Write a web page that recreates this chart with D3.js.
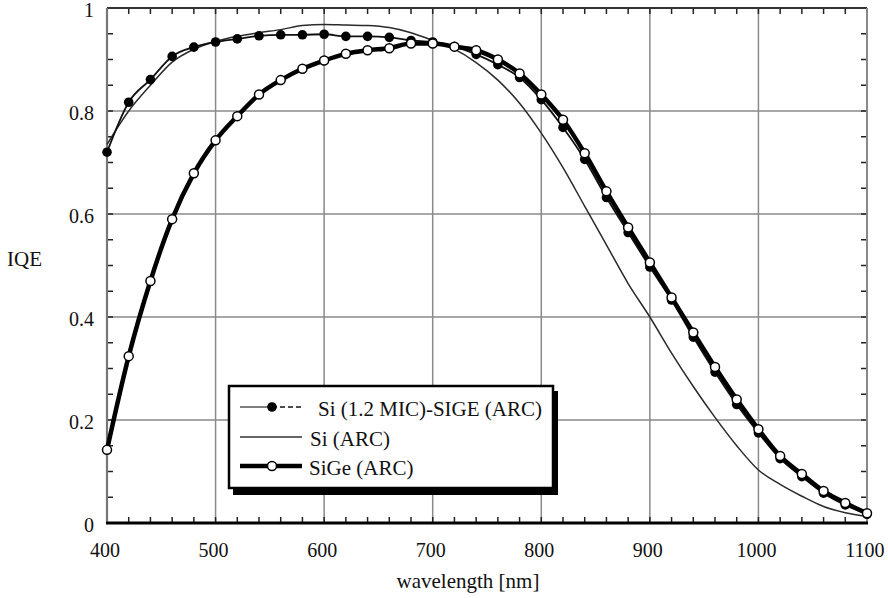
<!DOCTYPE html>
<html><head><meta charset="utf-8">
<script src="https://cdn.jsdelivr.net/npm/d3@7"></script>
<style>body{margin:0;background:#fff}svg{display:block}</style>
</head><body>
<svg id="c" width="888" height="598"></svg>
<script>
const wavelengths = [400,420,440,460,480,500,520,540,560,580,600,620,640,660,680,700,720,740,760,780,800,820,840,860,880,900,920,940,960,980,1000,1020,1040,1060,1080,1100];
const siMicSige = [0.72,0.817,0.861,0.906,0.924,0.934,0.94,0.946,0.948,0.948,0.949,0.945,0.945,0.943,0.937,0.934,0.925,0.91,0.89,0.865,0.822,0.768,0.706,0.632,0.564,0.497,0.433,0.361,0.293,0.23,0.175,0.125,0.09,0.058,0.035,0.017];
const siArc = [0.735,0.80,0.85,0.895,0.92,0.935,0.945,0.952,0.958,0.966,0.968,0.967,0.966,0.962,0.952,0.937,0.92,0.894,0.86,0.815,0.757,0.69,0.615,0.54,0.465,0.40,0.33,0.265,0.205,0.15,0.103,0.075,0.052,0.032,0.02,0.013];
const sigeArc = [0.142,0.324,0.47,0.59,0.679,0.743,0.79,0.832,0.86,0.882,0.898,0.911,0.918,0.922,0.931,0.931,0.925,0.918,0.900,0.873,0.832,0.783,0.718,0.644,0.574,0.506,0.438,0.37,0.303,0.24,0.182,0.13,0.095,0.062,0.039,0.019];
const xTicks = [400,500,600,700,800,900,1000,1100];
const yTicks = [0,0.2,0.4,0.6,0.8,1];
const yTickLabels = ["0","0.2","0.4","0.6","0.8","1"];
const legendLabels = ["Si (1.2 MIC)-SIGE (ARC)","Si (ARC)","SiGe (ARC)"];

const svg = d3.select("#c");
const L=107,R=867,T=8,B=523;
const x = d3.scaleLinear().domain([400,1100]).range([L,R]);
const y = d3.scaleLinear().domain([0,1]).range([B,T]);
const font = "'Liberation Serif','Times New Roman',serif";

// grid
const g = svg.append("g");
g.selectAll(".gx").data(xTicks.slice(1,-1)).join("line")
  .attr("x1",d=>x(d)).attr("x2",d=>x(d)).attr("y1",T).attr("y2",B)
  .attr("stroke","#8a8a8a").attr("stroke-width",1.5);
g.selectAll(".gy").data(yTicks.slice(1,-1)).join("line")
  .attr("y1",d=>y(d)).attr("y2",d=>y(d)).attr("x1",L).attr("x2",R)
  .attr("stroke","#8a8a8a").attr("stroke-width",1.5);

// minor ticks
const xMinor = d3.range(420,1100,20);
const yMinor = d3.range(0.05,1,0.05);
const tk = svg.append("g").attr("stroke","#222").attr("stroke-width",1.5);
xMinor.forEach(v=>{
  tk.append("line").attr("x1",x(v)).attr("x2",x(v)).attr("y1",B).attr("y2",B-6);
  tk.append("line").attr("x1",x(v)).attr("x2",x(v)).attr("y1",T).attr("y2",T+6);
});
yMinor.forEach(v=>{
  tk.append("line").attr("y1",y(v)).attr("y2",y(v)).attr("x1",L).attr("x2",L+6);
  tk.append("line").attr("y1",y(v)).attr("y2",y(v)).attr("x1",R).attr("x2",R-6);
});

// frame
svg.append("line").attr("x1",L).attr("x2",R).attr("y1",T).attr("y2",T).attr("stroke","#333").attr("stroke-width",2);
svg.append("line").attr("x1",L).attr("x2",L).attr("y1",T).attr("y2",B).attr("stroke","#777").attr("stroke-width",2.2);
svg.append("line").attr("x1",R).attr("x2",R).attr("y1",T).attr("y2",B).attr("stroke","#888").attr("stroke-width",2);
svg.append("line").attr("x1",L-1).attr("x2",R+1).attr("y1",B).attr("y2",B).attr("stroke","#000").attr("stroke-width",3);

// tick labels
svg.selectAll(".xl").data(xTicks).join("text")
  .attr("x",d=>x(d)-2).attr("y",B+34).attr("text-anchor","middle")
  .attr("font-family",font).attr("font-size",20).attr("fill","#111").text(d=>d);
svg.selectAll(".yl").data(yTicks).join("text")
  .attr("x",L-13).attr("y",d=>y(d)+9).attr("text-anchor","end")
  .attr("font-family",font).attr("font-size",20).attr("fill","#111").text((d,i)=>yTickLabels[i]);
svg.append("text").attr("x",468).attr("y",588).attr("text-anchor","middle")
  .attr("font-family",font).attr("font-size",21).attr("fill","#111").text("wavelength [nm]");
svg.append("text").attr("x",7).attr("y",266)
  .attr("font-family",font).attr("font-size",21).attr("fill","#111").text("IQE");

// lines
const line = arr => d3.line().x((d,i)=>x(wavelengths[i])).y(d=>y(d)).curve(d3.curveMonotoneX)(arr);
svg.append("path").attr("d",line(siArc)).attr("fill","none").attr("stroke","#2a2a2a").attr("stroke-width",1.5);
svg.append("path").attr("d",line(siMicSige)).attr("fill","none").attr("stroke","#111").attr("stroke-width",1.8);
svg.selectAll(".fd").data(siMicSige).join("circle")
  .attr("cx",(d,i)=>x(wavelengths[i])).attr("cy",d=>y(d)).attr("r",4.8).attr("fill","#000");
svg.append("path").attr("d",line(sigeArc)).attr("fill","none").attr("stroke","#000").attr("stroke-width",4.5);
svg.selectAll(".od").data(sigeArc).join("circle")
  .attr("cx",(d,i)=>x(wavelengths[i])).attr("cy",d=>y(d)).attr("r",4.5)
  .attr("fill","#fff").attr("stroke","#000").attr("stroke-width",1.5);

// legend
const lg = svg.append("g");
lg.append("rect").attr("x",233).attr("y",391).attr("width",325).attr("height",104).attr("fill","#000");
lg.append("rect").attr("x",229).attr("y",386).attr("width",324).attr("height",102).attr("fill","#fff").attr("stroke","#000").attr("stroke-width",2.5);
lg.append("line").attr("x1",240).attr("x2",272).attr("y1",407).attr("y2",407).attr("stroke","#555").attr("stroke-width",1.5);
lg.append("line").attr("x1",272).attr("x2",302).attr("y1",407).attr("y2",407).attr("stroke","#111").attr("stroke-width",1.5).attr("stroke-dasharray","5,3");
lg.append("circle").attr("cx",272).attr("cy",407).attr("r",4.8).attr("fill","#000");
lg.append("line").attr("x1",240).attr("x2",302).attr("y1",437).attr("y2",437).attr("stroke","#666").attr("stroke-width",2);
lg.append("line").attr("x1",240).attr("x2",302).attr("y1",466).attr("y2",466).attr("stroke","#000").attr("stroke-width",4.5);
lg.append("circle").attr("cx",272).attr("cy",466).attr("r",4.5).attr("fill","#fff").attr("stroke","#000").attr("stroke-width",1.5);
const lx=[318,310,309], ly=[416,446,475];
legendLabels.forEach((t,i)=>{
  lg.append("text").attr("x",lx[i]).attr("y",ly[i]).attr("font-family",font).attr("font-size",21).attr("fill","#111").text(t);
});
</script>
</body></html>
